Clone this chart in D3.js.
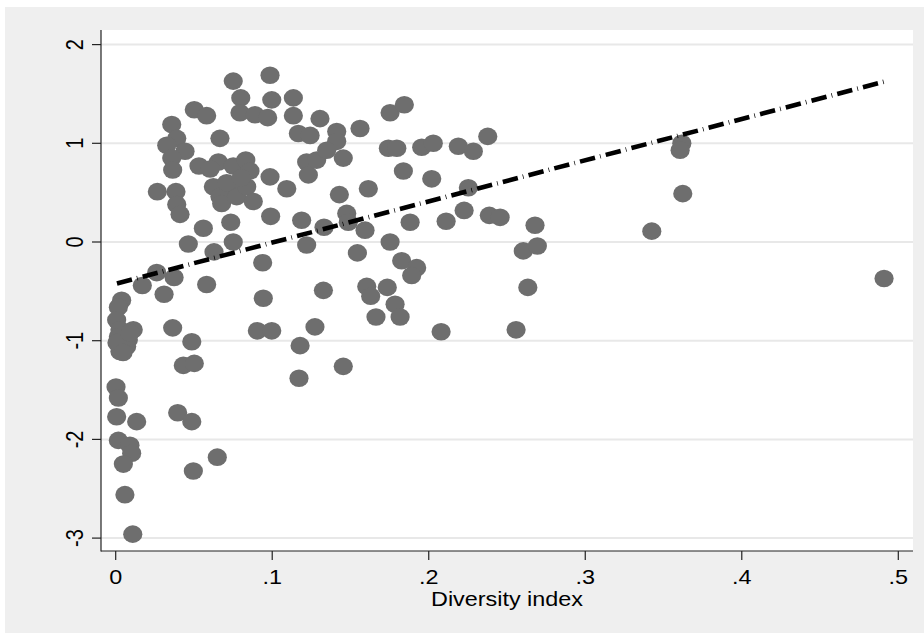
<!DOCTYPE html>
<html><head><meta charset="utf-8">
<script src="https://cdn.jsdelivr.net/npm/d3@7"></script>
<style>body{margin:0;background:#fff}svg{display:block}text{font-family:"Liberation Sans",Arial,sans-serif}</style>
</head><body><svg id="c" width="924" height="633"></svg>
<script>
// Data
const diversity = [0.0002,0.0017,0.0006,0.0134,0.0017,0.0091,0.0102,0.0049,0.0059,0.0109,
0.0038,0.0017,0.0006,0.0027,0.0112,0.0017,0.0081,0.0027,0.0070,0.0008,0.0047,0.0091,
0.0170,0.0262,0.0373,0.0309,0.0581,0.0464,0.0628,0.0751,0.0560,0.0735,0.0990,0.1188,0.1220,0.1331,
0.0939,0.0943,0.1327,0.0364,0.0486,0.0432,0.0502,0.0905,0.0997,0.1273,0.1178,0.1171,0.0396,0.0486,
0.0649,0.0496,0.1454,0.0751,0.0986,0.0799,0.0997,0.1135,0.0502,0.0581,0.0794,0.0890,0.0971,0.1135,
0.1305,0.0358,0.0390,0.0326,0.0666,0.0443,0.0358,0.0364,0.0532,0.0656,0.0751,0.0831,0.0858,0.1167,
0.1242,0.1220,0.1231,0.1284,0.0603,0.0986,0.1093,0.0266,0.0385,0.0390,0.0411,0.0624,0.0666,0.0677,
0.0751,0.0773,0.0837,0.0879,0.0709,0.0801,0.1753,0.1844,0.1412,0.1561,0.1412,0.1348,0.1454,0.1742,
0.1796,0.1955,0.2029,0.2189,0.2285,0.2377,0.1838,0.2019,0.1429,0.1614,0.2253,0.1476,0.1486,0.1593,
0.1881,0.2111,0.2226,0.2387,0.2456,0.2679,0.1544,0.1753,0.1827,0.1923,0.1891,0.2604,0.2694,0.1604,
0.1629,0.1735,0.1785,0.1663,0.1817,0.2633,0.2079,0.2558,0.3617,0.3606,0.3623,0.3425,0.4909];
const outcome = [-1.47,-1.58,-1.77,-1.82,-2.01,-2.06,-2.14,-2.25,-2.56,-2.96,
-0.59,-0.66,-0.79,-0.89,-0.89,-0.96,-0.99,-1.11,-1.06,-1.02,-1.12,-0.92,
-0.44,-0.31,-0.36,-0.53,-0.43,-0.02,-0.10,0.00,0.14,0.20,0.26,0.22,-0.03,0.15,
-0.21,-0.57,-0.49,-0.87,-1.01,-1.25,-1.23,-0.90,-0.90,-0.86,-1.05,-1.38,-1.73,-1.82,
-2.18,-2.32,-1.26,1.63,1.69,1.46,1.44,1.46,1.34,1.28,1.31,1.29,1.26,1.28,
1.25,1.19,1.05,0.98,1.05,0.92,0.85,0.73,0.77,0.81,0.77,0.83,0.72,1.10,
1.08,0.81,0.68,0.83,0.74,0.66,0.54,0.51,0.51,0.38,0.28,0.56,0.46,0.39,
0.53,0.46,0.56,0.41,0.60,0.65,1.31,1.39,1.12,1.15,1.02,0.93,0.85,0.95,
0.95,0.96,1.00,0.97,0.92,1.07,0.72,0.64,0.48,0.54,0.55,0.29,0.20,0.12,
0.20,0.21,0.32,0.27,0.25,0.17,-0.11,0.00,-0.19,-0.26,-0.34,-0.09,-0.04,-0.45,
-0.55,-0.46,-0.63,-0.76,-0.76,-0.46,-0.91,-0.89,1.00,0.93,0.49,0.11,-0.37];
const fitX = [0.0008, 0.4907];
const fitY = [-0.42, 1.624];
const xTicks = [0, 0.1, 0.2, 0.3, 0.4, 0.5];
const xTickLabels = ["0", ".1", ".2", ".3", ".4", ".5"];
const yTicks = [-3, -2, -1, 0, 1, 2];
const yTickLabels = ["-3", "-2", "-1", "0", "1", "2"];
const xTitle = "Diversity index";

const svg = d3.select("#c");
const P = {left: 101, right: 913, top: 30, bottom: 551};
const x = d3.scaleLinear().domain([0, 0.5]).range([115.7, 898.3]);
const y = d3.scaleLinear().domain([-3, 2]).range([538.1, 44.6]);
const SX = 1.17, FS = 20;

svg.append("rect").attr("x", 0).attr("y", 0).attr("width", 924).attr("height", 633).attr("fill", "#ffffff");
svg.append("rect").attr("x", 5).attr("y", 7).attr("width", 919).attr("height", 626).attr("fill", "#efefef");
svg.append("rect").attr("x", P.left).attr("y", P.top).attr("width", P.right - P.left).attr("height", P.bottom - P.top).attr("fill", "#ffffff");

// gridlines
svg.append("g").selectAll("line").data(yTicks).join("line")
  .attr("x1", P.left).attr("x2", P.right)
  .attr("y1", d => y(d)).attr("y2", d => y(d))
  .attr("stroke", "#e8e8e8").attr("stroke-width", 2);

// markers
const pts = diversity.map((d, i) => [d, outcome[i]]);
svg.append("g").selectAll("ellipse").data(pts).join("ellipse")
  .attr("cx", d => x(d[0])).attr("cy", d => y(d[1]))
  .attr("rx", 9.6).attr("ry", 8.8)
  .attr("fill", "#6e6e6e");

// fit line
const line = d3.line().x(d => x(d[0])).y(d => y(d[1]));
const fitPts = fitX.map((d, i) => [d, fitY[i]]);
svg.append("path").attr("d", line(fitPts)).attr("fill", "none")
  .attr("stroke", "#000").attr("stroke-width", 4.6)
  .attr("stroke-dasharray", "15.5,5.2,0.7,5.2");

// axes lines
svg.append("line").attr("x1", P.left).attr("x2", P.left).attr("y1", P.top).attr("y2", P.bottom + 0.5)
  .attr("stroke", "#222").attr("stroke-width", 1.2);
svg.append("line").attr("x1", P.left).attr("x2", P.right).attr("y1", P.bottom).attr("y2", P.bottom)
  .attr("stroke", "#222").attr("stroke-width", 1.2);

// x ticks
const xg = svg.append("g");
xg.selectAll("line").data(xTicks).join("line")
  .attr("x1", d => x(d)).attr("x2", d => x(d)).attr("y1", P.bottom).attr("y2", P.bottom + 9)
  .attr("stroke", "#222").attr("stroke-width", 1.2);
xg.selectAll("text").data(xTicks).join("text")
  .attr("transform", d => `translate(${x(d)},584) scale(${SX},1)`)
  .attr("text-anchor", "middle").attr("font-size", FS).attr("fill", "#000")
  .text((d, i) => xTickLabels[i]);

// y ticks
const yg = svg.append("g");
yg.selectAll("line").data(yTicks).join("line")
  .attr("x1", P.left - 9).attr("x2", P.left).attr("y1", d => y(d)).attr("y2", d => y(d))
  .attr("stroke", "#222").attr("stroke-width", 1.2);
yg.selectAll("text").data(yTicks).join("text")
  .attr("transform", d => `translate(83,${y(d)}) scale(${SX},1) rotate(-90)`)
  .attr("text-anchor", "middle").attr("font-size", FS).attr("fill", "#000")
  .text((d, i) => yTickLabels[i]);

// x title
svg.append("text").attr("transform", `translate(${(P.left + P.right) / 2},606) scale(${SX},1)`)
  .attr("text-anchor", "middle").attr("font-size", FS).attr("fill", "#000").text(xTitle);
</script></body></html>
